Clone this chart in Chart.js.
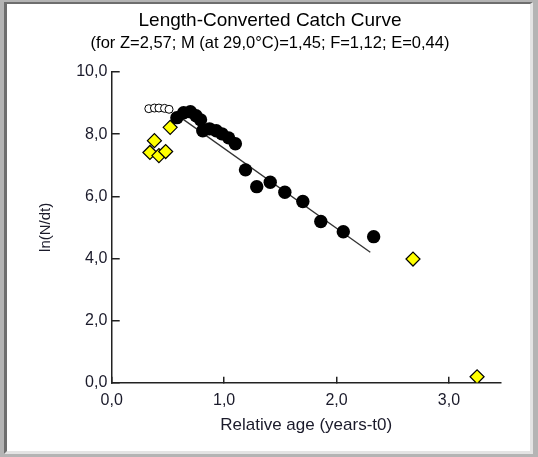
<!DOCTYPE html>
<html>
<head>
<meta charset="utf-8">
<script src="https://cdn.jsdelivr.net/npm/chart.js@4"></script>
<style>
  html, body { margin: 0; padding: 0; }
  body { width: 538px; height: 457px; background: #b4b4b4; position: relative; overflow: hidden; }
  .frame {
    position: absolute; left: 4px; top: 2px;
    width: 523px; height: 447px;
    border-top: 2px solid #6e6e6e; border-left: 3px solid #6e6e6e;
    border-right: 3px solid #e4e4e4; border-bottom: 3px solid #e4e4e4;
    background: #fff;
  }
  .plot { position: absolute; left: 7px; top: 4px; width: 520px; height: 445px; }
</style>
</head>
<body>
<div class="frame"></div>
<div class="plot"><canvas id="catchCurve" width="520" height="445"></canvas></div>
<script>
// points not used in the regression, open circles (left side)
const openAges = [0.33, 0.38, 0.42, 0.47, 0.51];
const openLnN = [8.82, 8.84, 8.84, 8.83, 8.80];

// points excluded (yellow)
const yellowAges = [0.34, 0.38, 0.42, 0.48, 0.52, 2.68, 3.25];
const yellowLnN = [7.41, 7.79, 7.31, 7.44, 8.22, 3.98, 0.19];

// points used for the regression (black)
const blackAges = [0.58, 0.64, 0.70, 0.75, 0.79, 0.81, 0.87, 0.93, 0.98, 1.04, 1.10,
                   1.19, 1.29, 1.41, 1.54, 1.70, 1.86, 2.06, 2.33];
const blackLnN = [8.53, 8.69, 8.72, 8.59, 8.46, 8.11, 8.17, 8.11, 8.01, 7.88, 7.69,
                  6.85, 6.31, 6.45, 6.13, 5.83, 5.19, 4.86, 4.70];

// regression line ends
const lineAges = [0.58, 2.30];
const lineLnN = [8.62, 4.20];

const xTicks = [0, 1, 2, 3];
const yTicks = [0, 2, 4, 6, 8, 10];

const toPoints = (xs, ys) => xs.map((x, i) => ({ x, y: ys[i] }));
const comma = (v) => Number(v).toFixed(1).replace('.', ',');

const font = 'Liberation Sans';
const textColor = '#1a1a2a';
const axisColor = '#222';

new Chart(document.getElementById('catchCurve').getContext('2d'), {
  type: 'scatter',
  data: {
    datasets: [
      {
        label: 'used',
        data: toPoints(blackAges, blackLnN),
        pointStyle: 'circle',
        pointRadius: 6.7,
        backgroundColor: '#000',
        borderColor: '#000',
        borderWidth: 0,
      },
      {
        label: 'excluded',
        data: toPoints(yellowAges, yellowLnN),
        pointStyle: 'rectRot',
        pointRadius: 7,
        backgroundColor: '#ffff00',
        borderColor: '#000',
        borderWidth: 1.2,
      },
      {
        label: 'open',
        data: toPoints(openAges, openLnN),
        pointStyle: 'circle',
        pointRadius: 4,
        backgroundColor: '#fff',
        borderColor: '#000',
        borderWidth: 1,
      },
      {
        type: 'line',
        label: 'regression',
        data: toPoints(lineAges, lineLnN),
        borderColor: '#333',
        borderWidth: 1.3,
        pointRadius: 0,
        fill: false,
      },
    ],
  },
  options: {
    responsive: false,
    animation: false,
    layout: { padding: { left: 32.3, right: 26.3, top: 0, bottom: 0 } },
    plugins: {
      legend: { display: false },
      tooltip: { enabled: false },
      title: {
        display: true,
        text: 'Length-Converted Catch Curve',
        color: '#000',
        font: { family: font, size: 19, weight: 'normal' },
        padding: { top: 5.6, bottom: 0 },
      },
      subtitle: {
        display: true,
        text: '(for Z=2,57; M (at 29,0°C)=1,45; F=1,12; E=0,44)',
        color: '#000',
        font: { family: font, size: 16.5 },
        padding: { top: 0.7, bottom: 19.1 },
      },
    },
    scales: {
      x: {
        type: 'linear',
        min: 0,
        max: 3.46,
        afterFit: (scale) => { scale.height = 66.3; },
        afterBuildTicks: (scale) => { scale.ticks = xTicks.map((v) => ({ value: v })); },
        border: { display: true, color: axisColor, width: 1.5 },
        grid: { drawOnChartArea: false, drawTicks: true, tickLength: -6, color: axisColor, lineWidth: 1.5 },
        ticks: {
          includeBounds: false,
          padding: 14,
          color: textColor,
          font: { family: font, size: 16 },
          callback: comma,
        },
        title: {
          display: true,
          text: 'Relative age (years-t0)',
          color: textColor,
          font: { family: font, size: 17 },
          padding: { top: 0, bottom: 13.3 },
        },
      },
      y: {
        type: 'linear',
        min: 0,
        max: 10,
        afterFit: (scale) => { scale.width = 72.4; },
        afterBuildTicks: (scale) => { scale.ticks = yTicks.map((v) => ({ value: v })); },
        border: { display: true, color: axisColor, width: 1.5 },
        grid: { drawOnChartArea: false, drawTicks: true, tickLength: -8, color: axisColor, lineWidth: 1.5 },
        ticks: {
          includeBounds: false,
          padding: 12.4,
          color: textColor,
          font: { family: font, size: 16 },
          callback: comma,
        },
        title: {
          display: true,
          text: 'ln(N/dt)',
          color: textColor,
          font: { family: font, size: 15 },
          padding: { top: -2, bottom: 0 },
        },
      },
    },
  },
});
</script>
</body>
</html>
